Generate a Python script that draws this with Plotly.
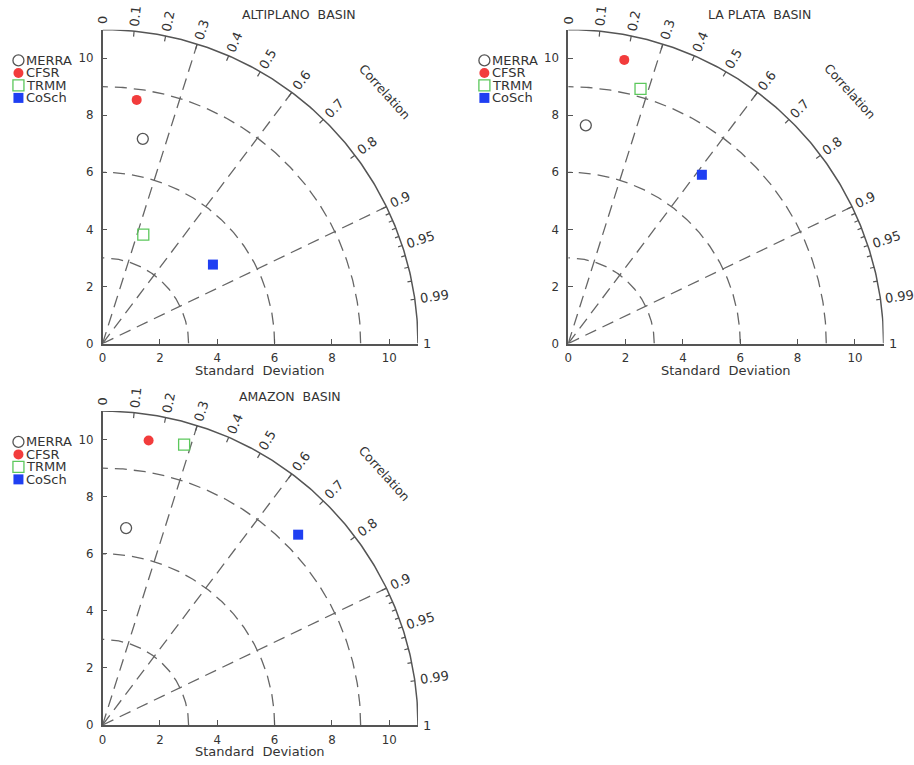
import numpy as np
import plotly.graph_objects as go

# ---------------- data ----------------
basins = ["ALTIPLANO  BASIN", "LA PLATA  BASIN", "AMAZON  BASIN"]
datasets = ["MERRA", "CFSR", "TRMM", "CoSch"]

# standard deviation and correlation of each dataset (order = datasets)
std_altiplano = [7.31, 8.62, 4.07, 4.74]
corr_altiplano = [0.192, 0.138, 0.349, 0.812]
std_laplata = [7.67, 10.13, 9.27, 7.53]
corr_laplata = [0.080, 0.193, 0.272, 0.619]
std_amazon = [6.95, 10.10, 10.23, 9.54]
corr_amazon = [0.118, 0.159, 0.278, 0.715]

sd_ticks = [0, 2, 4, 6, 8, 10]
sd_arcs = [3, 6, 9]
sd_max = 11
corr_lines = [0.3, 0.6, 0.9]
corr_major = [0.1, 0.2, 0.3, 0.4, 0.5, 0.6, 0.7, 0.8, 0.9]
corr_minor = [0.91, 0.92, 0.93, 0.94, 0.95, 0.96, 0.97, 0.98, 0.99]
corr_labels = ["0", "0.1", "0.2", "0.3", "0.4", "0.5", "0.6", "0.7", "0.8",
               "0.9", "0.95", "0.99", "1"]

# ---------------- styles ----------------
FONT = "DejaVu Sans"
TXT = "#333333"
LINE = "#555555"
DASHC = "#666666"
marker_styles = {
    "MERRA": dict(symbol="circle-open", size=11, color="#555555", line=dict(width=1.3, color="#555555")),
    "CFSR": dict(symbol="circle", size=10, color="#f23c3c", line=dict(width=0)),
    "TRMM": dict(symbol="square-open", size=11, color="#5cc85c", line=dict(width=1.3, color="#5cc85c")),
    "CoSch": dict(symbol="square", size=10, color="#1f3ff2", line=dict(width=0)),
}

W, H = 914, 765
PX = 28.8  # pixels per std unit
panels = [
    dict(std=std_altiplano, corr=corr_altiplano, ox=99.0, oy=346.7, title_x=6.84,
         leg_x=14.5, leg_y=61),
    dict(std=std_laplata, corr=corr_laplata, ox=566.7, oy=346.7, title_x=6.66,
         leg_x=482.5, leg_y=61),
    dict(std=std_amazon, corr=corr_amazon, ox=99.0, oy=731.7, title_x=6.52,
         leg_x=14.5, leg_y=446),
]

fig = go.Figure()
annotations = []


def label_width_px(s, size=13):
    return sum(0.318 * size if ch == "." else 0.636 * size for ch in s)


for i, p in enumerate(panels):
    n = "" if i == 0 else str(i + 1)
    xa, ya = "x" + n, "y" + n
    x0 = p["ox"] / W
    x1 = (p["ox"] + sd_max * PX) / W
    yb = (H - p["oy"]) / H
    yt = (H - (p["oy"] - sd_max * PX)) / H

    def to_paper(x, y, p=p):
        return (p["ox"] + x * PX) / W, (H - p["oy"] + y * PX) / H

    axis_common = dict(range=[0, sd_max], showgrid=False, zeroline=False, showline=True,
                       linecolor=LINE, linewidth=1.5, ticks="inside", ticklen=5,
                       tickwidth=1.2, tickcolor=LINE, tickvals=sd_ticks,
                       tickfont=dict(family=FONT, size=11.8, color=TXT), fixedrange=True)
    fig.layout["xaxis" + n] = dict(axis_common, domain=[x0, x1], anchor=ya,
                                   ticklabelstandoff=3)
    fig.layout["yaxis" + n] = dict(axis_common, domain=[yb, yt], anchor=xa,
                                   ticklabelstandoff=5)

    # dashed std arcs
    th = np.linspace(0, np.pi / 2, 200)
    for r in sd_arcs:
        fig.add_trace(go.Scatter(x=r * np.cos(th), y=r * np.sin(th), mode="lines",
                                 line=dict(color=DASHC, width=1.3, dash="12px,7px"),
                                 xaxis=xa, yaxis=ya, showlegend=False, hoverinfo="skip",
                                 cliponaxis=False))
    # dashed correlation rays
    for c in corr_lines:
        a = np.arccos(c)
        fig.add_trace(go.Scatter(x=[0, sd_max * np.cos(a)], y=[0, sd_max * np.sin(a)],
                                 mode="lines",
                                 line=dict(color=DASHC, width=1.3, dash="12px,7px"),
                                 xaxis=xa, yaxis=ya, showlegend=False, hoverinfo="skip",
                                 cliponaxis=False))
    # outer arc
    fig.add_trace(go.Scatter(x=sd_max * np.cos(th), y=sd_max * np.sin(th), mode="lines",
                             line=dict(color=LINE, width=1.5), xaxis=xa, yaxis=ya,
                             showlegend=False, hoverinfo="skip", cliponaxis=False))
    # ticks on the outer arc
    tx, ty = [], []
    for c, ln in [(c, 0.19) for c in corr_major] + [(c, 0.15) for c in corr_minor]:
        a = np.arccos(c)
        tx += [sd_max * np.cos(a), (sd_max - ln) * np.cos(a), None]
        ty += [sd_max * np.sin(a), (sd_max - ln) * np.sin(a), None]
    fig.add_trace(go.Scatter(x=tx, y=ty, mode="lines", line=dict(color=LINE, width=1.2),
                             xaxis=xa, yaxis=ya, showlegend=False, hoverinfo="skip",
                             cliponaxis=False))
    # data points
    std = np.array(p["std"])
    corr = np.array(p["corr"])
    for k, name in enumerate(datasets):
        fig.add_trace(go.Scatter(x=[std[k] * corr[k]], y=[std[k] * np.sqrt(1 - corr[k] ** 2)],
                                 mode="markers", marker=marker_styles[name], name=name,
                                 xaxis=xa, yaxis=ya, showlegend=False, cliponaxis=False))

    # correlation labels
    for s in corr_labels:
        c = float(s)
        a = np.arccos(c)
        r = 11.18 + label_width_px(s) / 2 / PX
        xp, yp = to_paper(r * np.cos(a), r * np.sin(a))
        annotations.append(dict(x=xp, y=yp, xref="paper", yref="paper",
                                text=s, showarrow=False, textangle=-np.degrees(a),
                                xanchor="center", yanchor="middle",
                                font=dict(family=FONT, size=13, color=TXT)))
    # "Correlation"
    a = np.radians(41.9)
    xp, yp = to_paper(13.2 * np.cos(a), 13.2 * np.sin(a))
    annotations.append(dict(x=xp, y=yp, xref="paper", yref="paper",
                            text="Correlation", showarrow=False, textangle=48,
                            xanchor="center", yanchor="middle",
                            font=dict(family=FONT, size=12.5, color=TXT)))
    # title
    xp, yp = to_paper(p["title_x"], 11.52)
    annotations.append(dict(x=xp, y=yp, xref="paper", yref="paper", text=basins[i],
                            showarrow=False, xanchor="center", yanchor="middle",
                            font=dict(family=FONT, size=12.5, color=TXT)))
    # axis title
    xp, yp = to_paper(5.5, -0.93)
    annotations.append(dict(x=xp, y=yp, xref="paper", yref="paper",
                            text="Standard  Deviation", borderpad=0,
                            showarrow=False, xanchor="center", yanchor="middle",
                            font=dict(family=FONT, size=13, color=TXT)))

    # legend (pixel overlay axis)
    for k, name in enumerate(datasets):
        ly = p["leg_y"] + k * 12.6
        fig.add_trace(go.Scatter(x=[p["leg_x"]], y=[ly], mode="markers",
                                 marker=marker_styles[name], xaxis="x4", yaxis="y4",
                                 showlegend=False, hoverinfo="skip", cliponaxis=False))
        annotations.append(dict(x=(p["leg_x"] + 7) / W, y=(H - ly) / H, xref="paper",
                                yref="paper", text=name, borderpad=0,
                                showarrow=False, xanchor="left", yanchor="middle",
                                font=dict(family=FONT, size=13, color=TXT)))

fig.layout["xaxis4"] = dict(domain=[0, 1], range=[0, W], visible=False, anchor="y4",
                            fixedrange=True)
fig.layout["yaxis4"] = dict(domain=[0, 1], range=[H, 0], visible=False, anchor="x4",
                            fixedrange=True)

fig.update_layout(width=W, height=H, margin=dict(l=0, r=0, t=0, b=0),
                  paper_bgcolor="white", plot_bgcolor="rgba(0,0,0,0)",
                  showlegend=False, annotations=annotations)

fig.write_html("out.html", config={"displayModeBar": False})
